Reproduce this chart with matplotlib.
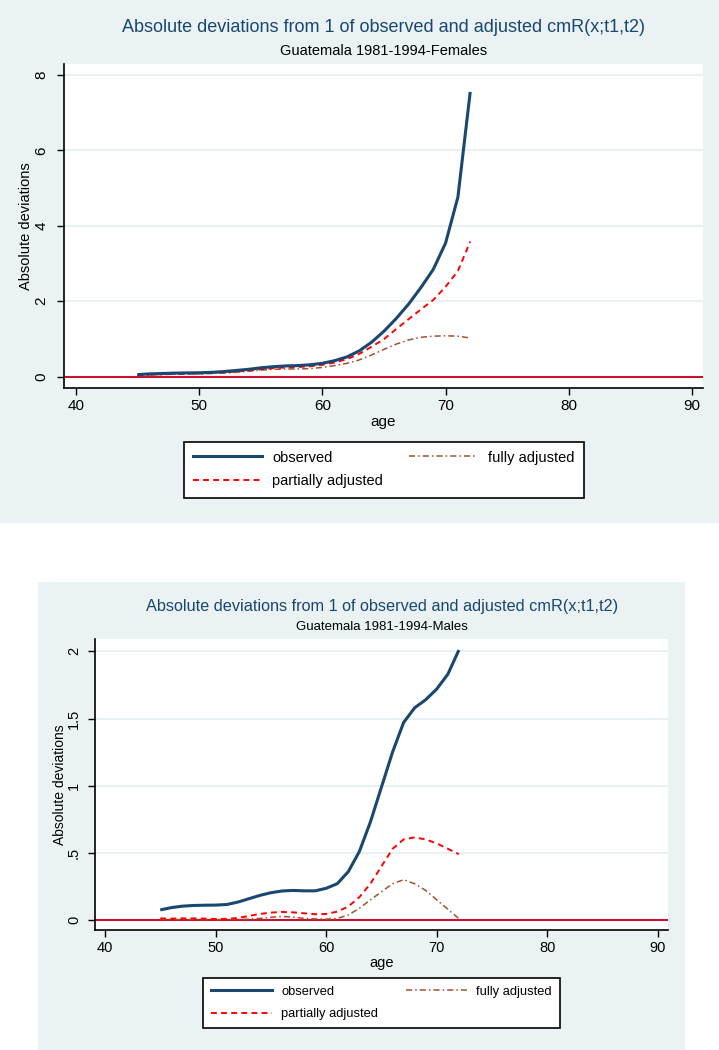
import matplotlib
matplotlib.use("Agg")
import matplotlib.pyplot as plt
from matplotlib.patches import Rectangle
from matplotlib.lines import Line2D

plt.rcParams['font.family'] = ['Liberation Sans', 'DejaVu Sans']

ages = list(range(45, 73))

# Guatemala 1981-1994, females
fem_observed = [0.05, 0.07, 0.08, 0.09, 0.095, 0.10, 0.11, 0.13, 0.16, 0.19,
                0.23, 0.26, 0.28, 0.29, 0.31, 0.35, 0.42, 0.52, 0.68, 0.91,
                1.20, 1.54, 1.92, 2.36, 2.84, 3.54, 4.76, 7.55]
fem_partial = [0.03, 0.05, 0.06, 0.07, 0.075, 0.08, 0.09, 0.11, 0.13, 0.16,
               0.19, 0.22, 0.24, 0.25, 0.27, 0.31, 0.37, 0.46, 0.60, 0.79,
               0.99, 1.26, 1.52, 1.78, 2.03, 2.38, 2.80, 3.58]
fem_fully = [0.02, 0.04, 0.05, 0.06, 0.065, 0.07, 0.08, 0.09, 0.11, 0.14,
             0.17, 0.19, 0.20, 0.20, 0.21, 0.24, 0.29, 0.35, 0.44, 0.57,
             0.72, 0.86, 0.97, 1.04, 1.07, 1.08, 1.07, 1.02]

# Guatemala 1981-1994, males
mal_observed = [0.075, 0.092, 0.103, 0.108, 0.11, 0.111, 0.115, 0.133, 0.158, 0.183,
                0.203, 0.216, 0.22, 0.217, 0.217, 0.236, 0.27, 0.36, 0.51, 0.73,
                0.99, 1.25, 1.47, 1.58, 1.64, 1.72, 1.83, 2.01]
mal_partial = [0.012, 0.01, 0.012, 0.012, 0.01, 0.008, 0.008, 0.015, 0.03, 0.045,
               0.055, 0.06, 0.057, 0.05, 0.043, 0.045, 0.062, 0.10, 0.17, 0.27,
               0.40, 0.53, 0.60, 0.615, 0.60, 0.57, 0.53, 0.49]
mal_fully = [0.004, 0.003, 0.003, 0.003, 0.003, 0.003, 0.003, 0.004, 0.006, 0.012,
             0.02, 0.026, 0.022, 0.012, 0.008, 0.006, 0.012, 0.037, 0.087, 0.15,
             0.21, 0.27, 0.30, 0.27, 0.22, 0.15, 0.08, 0.01]

xticks = [40, 50, 60, 70, 80, 90]
fem_yticks = [0, 2, 4, 6, 8]
fem_ylabels = ["0", "2", "4", "6", "8"]
mal_yticks = [0, 0.5, 1, 1.5, 2]
mal_ylabels = ["0", ".5", "1", "1.5", "2"]

title = "Absolute deviations from 1 of observed and adjusted cmR(x;t1,t2)"
series_names = ["observed", "partially adjusted", "fully adjusted"]

W, H = 719, 1050
BG = "#EAF2F3"
NAVY = "#1A476F"
RED = "#FF0000"
BROWN = "#A0522D"
ZERO = "#C9102F"
GRID = "#E4EDF1"

fig = plt.figure(figsize=(W / 100, H / 100), dpi=100, facecolor="white")


def fx(px):
    return px / W


def fy(py):
    return 1 - py / H


def panel(bg_box, ax_box, xlim, ylim, yticks, ylabels, obs, part, full,
          subtitle, title_y, sub_y, title_size, sub_size, fs, legfs, leg_box,
          ylab_off, ytick_pad, row_gap, bpad):
    bx0, by0, bx1, by1 = bg_box
    fig.add_artist(Rectangle((fx(bx0), fy(by1)), (bx1 - bx0) / W, (by1 - by0) / H,
                             transform=fig.transFigure, facecolor=BG,
                             edgecolor="none", zorder=-1))
    x0, y0, x1, y1 = ax_box
    ax = fig.add_axes([fx(x0), fy(y1), (x1 - x0) / W, (y1 - y0) / H])
    ax.set_facecolor("white")
    for t in yticks[1:]:
        ax.axhline(t, color=GRID, lw=1.2, zorder=1)
    ax.axhline(0, color=ZERO, lw=1.5, zorder=2)
    ax.plot(ages, obs, color=NAVY, lw=2.2, zorder=5, solid_capstyle="butt")
    ax.plot(ages, part, color=RED, lw=1.4, dashes=(3, 2.2), zorder=4)
    ax.plot(ages, full, color=BROWN, lw=1.1, dashes=(4, 2, 1, 2), zorder=3)
    ax.set_xlim(*xlim)
    ax.set_ylim(*ylim)
    ax.set_xticks(xticks)
    ax.set_yticks(yticks)
    ax.set_yticklabels(ylabels, rotation=90, va="center")
    ax.spines["top"].set_visible(False)
    ax.spines["right"].set_visible(False)
    ax.spines["left"].set_linewidth(1.2)
    ax.spines["bottom"].set_linewidth(1.2)
    ax.tick_params(axis="x", length=5, width=1, pad=3, labelsize=fs)
    ax.tick_params(axis="y", length=5, width=1, pad=ytick_pad, labelsize=fs)
    ax.set_xlabel("age", fontsize=fs, labelpad=1)
    ax.set_ylabel("Absolute deviations", fontsize=fs - 0.5)
    ax.yaxis.set_label_coords(-ylab_off / (x1 - x0), 0.5)
    ax.yaxis.label.set_va("center")

    cx = fx((x0 + x1) / 2)
    fig.text(cx, fy(title_y), title, ha="center", va="center",
             fontsize=title_size, color=NAVY)
    fig.text(cx, fy(sub_y), subtitle, ha="center", va="center",
             fontsize=sub_size, color="black")

    handles = [Line2D([], [], color=NAVY, lw=2.2),
               Line2D([], [], color=RED, lw=1.4, dashes=(3, 2.2)),
               Line2D([], [], color=BROWN, lw=1.1, dashes=(4, 2, 1, 2))]
    lx0, ly0, lx1, ly1 = leg_box
    leg = ax.legend(handles, series_names, ncol=2, loc="center",
                    bbox_to_anchor=(fx(lx0), fy(ly1), (lx1 - lx0) / W, (ly1 - ly0) / H),
                    bbox_transform=fig.transFigure, mode="expand",
                    borderaxespad=0, fontsize=legfs, handlelength=4.7,
                    handletextpad=0.73, labelspacing=row_gap, borderpad=bpad,
                    fancybox=False, framealpha=1, edgecolor="black")
    leg.get_frame().set_linewidth(1.2)
    return ax


panel((0, 0, 719, 523), (63.5, 64, 703, 388), (39.01, 90.88), (-0.305, 8.29),
      fem_yticks, fem_ylabels, fem_observed, fem_partial, fem_fully,
      "Guatemala 1981-1994-Females", 27, 51, 13, 10.5, 11, 10.5,
      (184, 440, 583.5, 499), 37, 6, 0.68, 0.62)

panel((38, 582, 685, 1050), (95, 639, 668.3, 930), (39.1, 90.93), (-0.0745, 2.092),
      mal_yticks, mal_ylabels, mal_observed, mal_partial, mal_fully,
      "Guatemala 1981-1994-Males", 607, 627, 11.7, 9.5, 10.5, 9.3,
      (203, 977, 560, 1029), 35, 5, 0.78, 0.62)

fig.savefig("out.png", dpi=100, facecolor="white")
